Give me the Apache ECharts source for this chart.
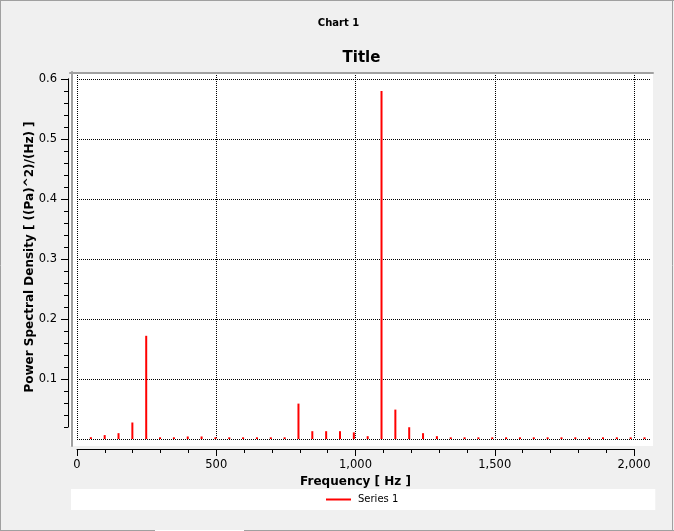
<!DOCTYPE html>
<html>
<head>
<meta charset="utf-8">
<script src="https://cdn.jsdelivr.net/npm/echarts@6/dist/echarts.min.js"></script>
<style>
html,body{margin:0;padding:0;background:#f0f0f0;}
#c{width:674px;height:531px;}
</style>
</head>
<body>
<div id="c"></div>
<script>
// ---- data ----
const seriesName = 'Series 1';
const freqs = [49.7, 99.4, 149.1, 198.8, 248.5, 298.2, 347.9, 397.6, 447.3, 497,
  546.7, 596.4, 646.1, 695.8, 745.5, 795.2, 844.9, 894.6, 944.3, 994,
  1043.7, 1093.4, 1143.1, 1192.8, 1242.5, 1292.2, 1341.9, 1391.6, 1441.3, 1491,
  1540.7, 1590.4, 1640.1, 1689.8, 1739.5, 1789.2, 1838.9, 1888.6, 1938.3, 1988, 2037.7];
const psd = [0.003, 0.0065, 0.0097, 0.0275, 0.172, 0.0028, 0.0028, 0.0042, 0.0042, 0.0028,
  0.0028, 0.0028, 0.0028, 0.0028, 0.0028, 0.059, 0.013, 0.013, 0.013, 0.011,
  0.0047, 0.580, 0.049, 0.0196, 0.0097, 0.0047, 0.0028, 0.0028, 0.0028, 0.0028,
  0.0028, 0.0028, 0.0028, 0.0028, 0.0028, 0.0028, 0.0028, 0.0028, 0.0028, 0.0028, 0.0028];
const xTickValues = [0, 500, 1000, 1500, 2000];
const xTickLabels = ['0', '500', '1,000', '1,500', '2,000'];
const yTickValues = [0.1, 0.2, 0.3, 0.4, 0.5, 0.6];
const yTickLabels = ['0.1', '0.2', '0.3', '0.4', '0.5', '0.6'];

const FONT = 'DejaVu Sans';
const dotted = {show: true, showMaxLine: false, lineStyle: {color: '#000', width: 1, type: 'dotted'}};
const hiddenX = (g) => ({gridIndex: g, type: 'value', show: false, min: 0, max: 1});
const hiddenY = (g) => ({gridIndex: g, type: 'value', show: false, min: 0, max: 1});

const chart = echarts.init(document.getElementById('c'), null, {renderer: 'canvas'});
chart.setOption({
  backgroundColor: '#f0f0f0',
  animation: false,
  title: [
    {text: 'Chart 1', left: 338.5, top: 18, padding: 0, textAlign: 'center',
     textStyle: {fontFamily: FONT, fontSize: 10, fontWeight: 'bold', color: '#000'}},
    {text: 'Title', left: 361.5, top: 51, padding: 0, textAlign: 'center',
     textStyle: {fontFamily: FONT, fontSize: 15, fontWeight: 'bold', color: '#000'}}
  ],
  legend: {
    data: [seriesName], left: 71, top: 489,
    padding: [4, 257, 4, 255],
    backgroundColor: '#fff',
    icon: 'rect', itemWidth: 25, itemHeight: 2,
    textStyle: {fontFamily: FONT, fontSize: 10, color: '#000', lineHeight: 13, padding: [0, 0, 0, 2]}
  },
  grid: [
    {left: 77, right: 24, top: 75, bottom: 92, z: 3},                      // plot (gridlines + bars)
    {left: 70, right: 21, top: 72, bottom: 85, show: true, backgroundColor: '#fff', borderWidth: 0, z: 0}, // white panel
    {left: 68, width: 10, top: 79, bottom: 104},                           // y axis line + minor ticks
    {left: 68, width: 10, top: 79, bottom: 152},                           // y major ticks + labels
    {left: 77, right: 40, top: 100, bottom: 82}                            // x axis
  ],
  xAxis: [
    {gridIndex: 0, type: 'value', min: 0, max: 2057.4, interval: 500,
     axisLine: {show: false, onZero: false}, axisTick: {show: false}, axisLabel: {show: false}, splitLine: dotted},
    {gridIndex: 1, type: 'value', min: 0, max: 1, position: 'top', offset: -1,
     axisLine: {show: true, onZero: false, lineStyle: {color: '#a0a0a0', width: 2}},
     axisTick: {show: false}, axisLabel: {show: false}, splitLine: {show: false}},
    hiddenX(2), hiddenX(3),
    {gridIndex: 4, type: 'value', min: 0, max: 2000, interval: 500, position: 'bottom',
     axisLine: {show: true, onZero: false, lineStyle: {color: '#000', width: 1}},
     axisTick: {show: true, length: 7, lineStyle: {color: '#000'}},
     minorTick: {show: true, splitNumber: 5, length: 4, lineStyle: {color: '#000'}},
     splitLine: {show: false},
     axisLabel: {show: true, margin: 10, fontFamily: FONT, fontSize: 11.5, color: '#000',
       formatter: (v) => { const i = xTickValues.indexOf(Math.round(v)); return i >= 0 ? xTickLabels[i] : ''; }},
     name: 'Frequency [ Hz ]', nameLocation: 'middle', nameGap: 26,
     nameTextStyle: {fontFamily: FONT, fontSize: 12, fontWeight: 'bold', color: '#000'}}
  ],
  yAxis: [
    {gridIndex: 0, type: 'value', min: 0, max: 0.6067, interval: 0.1,
     axisLine: {show: false, onZero: false}, axisTick: {show: false}, axisLabel: {show: false}, splitLine: dotted,
     name: 'Power Spectral Density [ ((Pa)^2)/(Hz) ]', nameLocation: 'middle', nameRotate: 90, nameGap: 41,
     nameTextStyle: {fontFamily: FONT, fontSize: 12, fontWeight: 'bold', color: '#000'}},
    {gridIndex: 1, type: 'value', min: 0, max: 1, position: 'left', offset: -2,
     axisLine: {show: true, onZero: false, lineStyle: {color: '#a0a0a0', width: 2}},
     axisTick: {show: false}, axisLabel: {show: false}, splitLine: {show: false}},
    {gridIndex: 2, type: 'value', min: 0.02, max: 0.6, interval: 0.02, position: 'left',
     axisLine: {show: true, onZero: false, lineStyle: {color: '#000', width: 1}},
     axisTick: {show: true, length: 4, lineStyle: {color: '#000'}},
     axisLabel: {show: false}, splitLine: {show: false}},
    {gridIndex: 3, type: 'value', min: 0.1, max: 0.6, interval: 0.1, position: 'left',
     axisLine: {show: true, onZero: false, lineStyle: {color: '#000', width: 1}},
     axisTick: {show: true, length: 7, lineStyle: {color: '#000'}},
     splitLine: {show: false},
     axisLabel: {show: true, margin: 11, fontFamily: FONT, fontSize: 11.5, color: '#000',
       formatter: (v) => { const i = yTickValues.findIndex(t => Math.abs(t - v) < 1e-6); return i >= 0 ? yTickLabels[i] : ''; }}},
    hiddenY(4)
  ],
  series: [{
    name: seriesName, type: 'bar', xAxisIndex: 0, yAxisIndex: 0,
    barWidth: 2, z: 5,
    itemStyle: {color: '#ff0000'},
    data: freqs.map((f, i) => [f, psd[i]])
  }],
  graphic: [
    {type: 'line', shape: {x1: 0, y1: 0.5, x2: 674, y2: 0.5}, style: {stroke: '#a0a0a0', lineWidth: 1}},
    {type: 'line', shape: {x1: 0.5, y1: 0, x2: 0.5, y2: 531}, style: {stroke: '#a0a0a0', lineWidth: 1}},
    {type: 'line', shape: {x1: 672.5, y1: 0, x2: 672.5, y2: 531}, style: {stroke: '#a0a0a0', lineWidth: 1}},
    {type: 'line', shape: {x1: 0, y1: 530.5, x2: 155, y2: 530.5}, style: {stroke: '#a0a0a0', lineWidth: 1}},
    {type: 'line', shape: {x1: 155, y1: 530.5, x2: 244, y2: 530.5}, style: {stroke: '#ffffff', lineWidth: 1}},
    {type: 'line', shape: {x1: 244, y1: 530.5, x2: 674, y2: 530.5}, style: {stroke: '#a0a0a0', lineWidth: 1}}
  ]
});
</script>
</body>
</html>
